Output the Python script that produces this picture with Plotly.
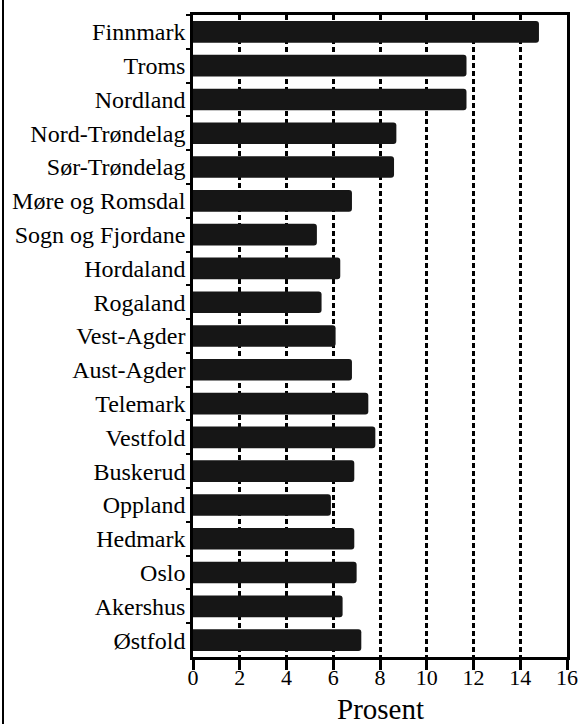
import plotly.graph_objects as go

counties = ["Finnmark", "Troms", "Nordland", "Nord-Trøndelag", "Sør-Trøndelag",
            "Møre og Romsdal", "Sogn og Fjordane", "Hordaland", "Rogaland",
            "Vest-Agder", "Aust-Agder", "Telemark", "Vestfold", "Buskerud",
            "Oppland", "Hedmark", "Oslo", "Akershus", "Østfold"]
prosent = [14.8, 11.7, 11.7, 8.7, 8.6, 6.8, 5.3, 6.3, 5.5, 6.1, 6.8, 7.5, 7.8,
           6.9, 5.9, 6.9, 7.0, 6.4, 7.2]
x_ticks = [0, 2, 4, 6, 8, 10, 12, 14, 16]

W, H = 585, 724
ML, MR, MT, MB = 193, 18, 15, 67

fig = go.Figure(go.Bar(
    x=prosent, y=counties, orientation="h",
    marker=dict(color="#161616", line=dict(width=0)),
    width=0.64,
))

font = "Liberation Serif"
fig.update_layout(
    width=W, height=H,
    margin=dict(l=ML, r=MR, t=MT, b=MB, autoexpand=False),
    paper_bgcolor="white", plot_bgcolor="white",
    showlegend=False,
    barcornerradius=3,
    font=dict(family=font, color="black"),
    shapes=[dict(type="line", xref="paper", yref="paper",
                 x0=(3 - ML) / (W - ML - MR), x1=(3 - ML) / (W - ML - MR),
                 y0=-MB / (H - MT - MB), y1=1 + MT / (H - MT - MB),
                 line=dict(color="black", width=2))],
    annotations=[dict(text="Prosent", xref="paper", yref="paper",
                      x=0.5, y=-(708.5 - (H - MB)) / (H - MT - MB),
                      xanchor="center", yanchor="middle", showarrow=False,
                      font=dict(size=29, family=font))],
)
fig.update_xaxes(
    range=[0, 16], tickvals=x_ticks, ticktext=[str(v) for v in x_ticks],
    showline=True, linecolor="black", linewidth=2.5, mirror=True,
    ticks="outside", ticklen=10, tickwidth=2.5, tickcolor="black",
    tickfont=dict(size=22, family=font), ticklabelstandoff=-11,
    showgrid=True, gridcolor="black", gridwidth=2.5, griddash="5px,3px",
    zeroline=False,
)
fig.update_yaxes(
    type="category", autorange="reversed",
    showline=True, linecolor="black", linewidth=2.5, mirror=True,
    ticks="outside", tickson="boundaries", ticklen=4, tickwidth=2, tickcolor="black",
    tickfont=dict(size=24, family=font),
    showgrid=False,
)
fig.write_html("out.html", config={"displayModeBar": False},
               post_script="document.body.style.margin='0';document.body.style.padding='0';")
